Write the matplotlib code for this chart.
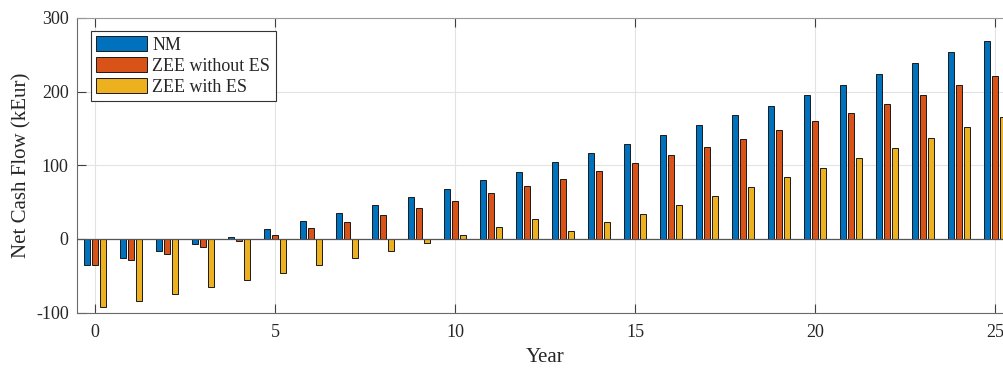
import numpy as np
import matplotlib
matplotlib.use('Agg')
import matplotlib.pyplot as plt

plt.rcParams['font.family'] = ['Liberation Serif', 'DejaVu Serif']
plt.rcParams['axes.unicode_minus'] = False

years = np.arange(0, 26)
nm = [-36, -26, -17, -7, 3, 13.5, 24, 35, 45.5, 57, 68, 80, 91.5, 104, 116, 128.5,
      141, 155, 168, 181, 195.5, 209.5, 224, 239, 253.5, 269]
zee_no_es = [-36, -28.5, -20, -11.5, -2.7, 5.5, 14.5, 23.5, 33, 42, 52, 62, 71.5, 82,
             92.5, 103, 113.5, 125, 136, 148, 159.5, 171.5, 183.5, 196, 208.5, 221.5]
zee_es = [-92.5, -84, -74.5, -65, -56, -46, -36, -26, -16, -5.5, 5.5, 16, 27.5, 11,
          22.5, 34, 46, 58, 71, 83.5, 96.5, 110, 124, 137.5, 151.5, 166]
labels = ['NM', 'ZEE without ES', 'ZEE with ES']
colors = ['#0072BD', '#D95319', '#EDB120']

txt = '#262626'

fig = plt.figure(figsize=(10.04, 3.72), dpi=100)
ax = fig.add_axes([77 / 1004, 59.5 / 372, 936 / 1004, 294.5 / 372])

step = 2 / 9  # MATLAB grouped bar spacing for 3 series
width = 0.8 * step
for i, (vals, lab, col) in enumerate(zip([nm, zee_no_es, zee_es], labels, colors)):
    ax.bar(years + (i - 1) * step, vals, width, color=col, edgecolor='#1a1a1a',
           linewidth=0.7, label=lab, zorder=3)

ax.axhline(0, color='#555555', linewidth=0.9, zorder=4)

ax.set_xlim(-0.5, 25.5)
ax.set_ylim(-100, 300)
ax.set_xticks([0, 5, 10, 15, 20, 25])
ax.set_yticks([-100, 0, 100, 200, 300])
ax.grid(True, color='#e3e3e3', linewidth=0.8, zorder=0)
ax.set_axisbelow(True)

ax.tick_params(axis='both', direction='in', length=6.5, width=0.8, colors='#404040',
               labelcolor=txt, labelsize=13, top=True, right=True)
ax.tick_params(axis='y', pad=6)
ax.tick_params(axis='x', pad=8)
for s in ['left', 'bottom']:
    ax.spines[s].set_color('#6a6a6a')
for s in ['top', 'right']:
    ax.spines[s].set_color('#9a9a9a')

ax.set_xlabel('Year', fontsize=15, color=txt, labelpad=5)
ax.set_ylabel('Net Cash Flow (kEur)', fontsize=15, color=txt, labelpad=3)

leg = ax.legend(loc='upper left', bbox_to_anchor=(0.015, 0.956), borderaxespad=0,
                fontsize=13, frameon=True, fancybox=False, framealpha=1,
                handlelength=2.8, handleheight=0.9, handletextpad=0.3,
                labelspacing=0.18, borderpad=0.3, edgecolor='#333333')
leg.get_frame().set_linewidth(0.8)
for t in leg.get_texts():
    t.set_color(txt)

fig.savefig('out.png', dpi=100)
